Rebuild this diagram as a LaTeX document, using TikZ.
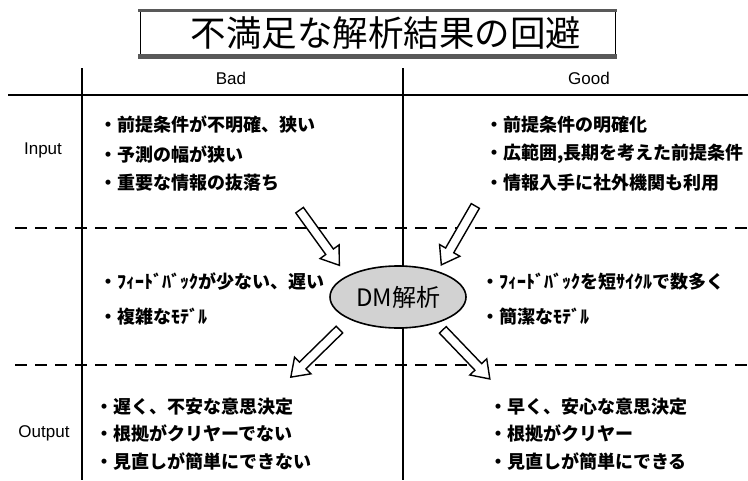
\documentclass[tikz,border=0pt]{standalone}
\usepackage{fontspec}
\setmainfont{Liberation Sans}
\newfontfamily\jp{Noto Sans CJK JP}
\usetikzlibrary{shapes.geometric,shapes.arrows}
\begin{document}
\begin{tikzpicture}[x=1pt,y=-1pt,
  grid/.style={line width=1.6pt},
  dashline/.style={line width=1.8pt, dash pattern=on 12pt off 8pt},
  headtext/.style={font=\fontsize{17}{20}\selectfont, anchor=center, inner sep=0pt},
  item/.style={font=\jp\bfseries\fontsize{18}{21}\selectfont, anchor=west, inner sep=0pt},
  barrow/.style={single arrow, draw, line width=1.4pt, fill=white, inner sep=4pt,
    single arrow head extend=7pt, single arrow tip angle=70, minimum height=68pt},
]
\useasboundingbox (0,0) rectangle (748,480);
% title box
\draw[line width=0.8pt] (140,10) -- (140,56);
\draw[line width=0.8pt] (615,10) -- (615,56);
\draw[line width=3pt, black!65] (138,10) -- (617,10);
\draw[line width=5pt, black!65] (138,56) -- (617,56);
\node[font=\jp\fontsize{35.5}{38}\selectfont, inner sep=0pt] (title) at (386,33) {不満足な解析結果の回避};
% grid
\draw[grid] (82,68) -- (82,480);
\draw[grid] (403,68) -- (403,480);
\draw[grid] (8,95) -- (748,95);
\draw[dashline] (15,228) -- (748,228);
\draw[dashline] (15,365) -- (748,365);
% headers
\node[headtext] (bad) at (231,78) {Bad};
\node[headtext] (good) at (589,78) {Good};
\node[headtext] (input) at (43,150) {Input};
\node[headtext] (output) at (44,433) {Output};
% input items
\node[item] (i1) at (99,125) {・前提条件が不明確、狭い};
\node[item] (i2) at (99,154) {・予測の幅が狭い};
\node[item] (i3) at (99,183) {・重要な情報の抜落ち};
\node[item] (g1) at (485,125) {・前提条件の明確化};
\node[item] (g2) at (485,154) {・広範囲,長期を考えた前提条件};
\node[item] (g3) at (485,183) {・情報入手に社外機関も利用};
% middle items
\node[item] (m1) at (99,282) {・ﾌｨｰﾄﾞﾊﾞｯｸが少ない、遅い};
\node[item] (m2) at (99,317) {・複雑なﾓﾃﾞﾙ};
\node[item] (n1) at (481,282) {・ﾌｨｰﾄﾞﾊﾞｯｸを短ｻｲｸﾙで数多く};
\node[item] (n2) at (481,317) {・簡潔なﾓﾃﾞﾙ};
% output items
\node[item] (o1) at (95,407) {・遅く、不安な意思決定};
\node[item] (o2) at (95,433) {・根拠がクリヤーでない};
\node[item] (o3) at (95,462) {・見直しが簡単にできない};
\node[item] (p1) at (489,407) {・早く、安心な意思決定};
\node[item] (p2) at (489,433) {・根拠がクリヤー};
\node[item] (p3) at (489,462) {・見直しが簡単にできる};
% ellipse
\node[ellipse, draw, line width=1.6pt, fill=gray!35, minimum width=136pt, minimum height=62pt, inner sep=0pt,
  font=\jp\fontsize{24}{26}\selectfont] (dm) at (398,297) {DM解析};
% block arrows
\node[barrow, rotate=-54.2] (a1) at (317.5,235) {};
\node[barrow, rotate=-120] (a2) at (460,232.5) {};
\node[barrow, rotate=-135.6] (a3) at (317.5,351) {};
\node[barrow, rotate=-46.2] (a4) at (464,352) {};
\end{tikzpicture}
\end{document}
